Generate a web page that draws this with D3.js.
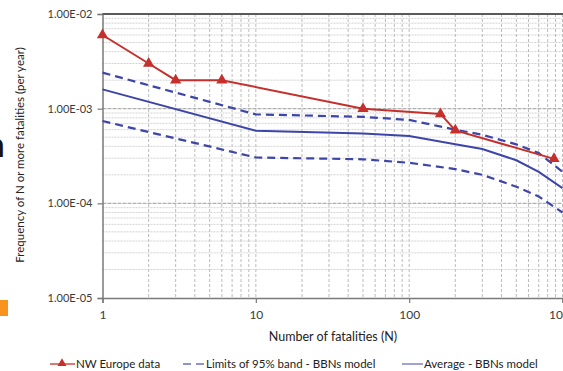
<!DOCTYPE html>
<html>
<head>
<meta charset="utf-8">
<script src="https://cdn.jsdelivr.net/npm/d3@7"></script>
<style>
  html, body { margin: 0; padding: 0; background: #fff; }
  svg { display: block; font-family: Lato, "Open Sans", sans-serif; }
</style>
</head>
<body>
<svg id="chart" width="563" height="371"></svg>
<script>
// F-N curve: frequency of N or more fatalities per year
const nweN    = [1, 2, 3, 6, 50, 160, 200, 880];
const nweFreq = [6.0e-3, 3.0e-3, 2.0e-3, 2.0e-3, 1.0e-3, 8.8e-4, 5.9e-4, 2.95e-4];

const modelN   = [1, 10, 50, 100, 200, 300, 500, 700, 1000];
const avgFreq  = [1.6e-3, 5.85e-4, 5.45e-4, 5.15e-4, 4.2e-4, 3.75e-4, 2.85e-4, 2.15e-4, 1.45e-4];
const upperFreq = [2.4e-3, 8.7e-4, 8.2e-4, 7.6e-4, 6.0e-4, 5.3e-4, 4.2e-4, 3.4e-4, 2.15e-4];
const lowerFreq = [7.4e-4, 3.05e-4, 2.92e-4, 2.68e-4, 2.3e-4, 2.0e-4, 1.5e-4, 1.18e-4, 8.0e-5];

const xTickValues = [1, 10, 100, 1000];
const yTickValues = [1e-5, 1e-4, 1e-3, 1e-2];
const yTickLabels = ["1.00E-05", "1.00E-04", "1.00E-03", "1.00E-02"];

const legendLabels = ["NW Europe data", "Limits of 95% band - BBNs model", "Average - BBNs model"];

const RED = "#c5302c";
const BLUE = "#3d45a8";

const svg = d3.select("#chart");
const plotL = 102.5, plotR = 562.5, plotT = 14, plotB = 298;

const x = d3.scaleLog().domain([1, 1000]).range([plotL, plotR]);
const y = d3.scaleLog().domain([1e-5, 1e-2]).range([plotB, plotT]);

// minor grid values (2..9 within each decade)
const xGrid = [];
for (let d = 1; d < 1000; d *= 10) for (let k = 2; k <= 10; k++) xGrid.push(d * k);
const yMinor = [];
for (let d = 1e-5; d < 1e-2 * 0.99; d *= 10) for (let k = 2; k <= 9; k++) yMinor.push(d * k);

const grid = svg.append("g");
grid.selectAll(".hminor").data(yMinor).join("line")
  .attr("x1", plotL).attr("x2", plotR)
  .attr("y1", d => y(d)).attr("y2", d => y(d))
  .attr("stroke", "#d2d2d2").attr("stroke-width", 1).attr("stroke-dasharray", "2,1");
grid.selectAll(".hmajor").data(yTickValues.slice(1, 3)).join("line")
  .attr("x1", plotL).attr("x2", plotR)
  .attr("y1", d => y(d)).attr("y2", d => y(d))
  .attr("stroke", "#b0b0b0").attr("stroke-width", 1.2).attr("stroke-dasharray", "4,1");
grid.selectAll(".v").data(xGrid).join("line")
  .attr("x1", d => x(d)).attr("x2", d => x(d))
  .attr("y1", plotT).attr("y2", plotB)
  .attr("stroke", "#bcbcbc").attr("stroke-width", 1).attr("stroke-dasharray", "3,2");

// axes
const yAxis = d3.axisLeft(y).tickValues(yTickValues)
  .tickFormat((d, i) => yTickLabels[i]).tickSize(5).tickPadding(5);
const gy = svg.append("g").attr("transform", `translate(${plotL},0)`).call(yAxis);
gy.select(".domain").attr("stroke", "#7a7a7a").attr("stroke-width", 1.5);
gy.selectAll(".tick line").attr("stroke", "#7a7a7a").attr("stroke-width", 1.2);
gy.selectAll(".tick text").attr("fill", "#3a3a3a").style("font-size", "11px")
  .style("font-family", "Lato, sans-serif");

const xAxis = d3.axisBottom(x).tickValues(xTickValues)
  .tickFormat(d3.format("d")).tickSize(5).tickPadding(7);
const gx = svg.append("g").attr("transform", `translate(0,${plotB})`).call(xAxis);
gx.select(".domain").attr("stroke", "#7a7a7a").attr("stroke-width", 1.5);
gx.selectAll(".tick line").attr("stroke", "#7a7a7a").attr("stroke-width", 1.2);
gx.selectAll(".tick text").attr("fill", "#3a3a3a").style("font-size", "12px")
  .style("font-family", "Lato, sans-serif");

// top border
svg.append("line").attr("x1", plotL).attr("x2", 563).attr("y1", plotT).attr("y2", plotT)
  .attr("stroke", "#5a5a5a").attr("stroke-width", 2);

// model curves
const line = d3.line().x(d => x(d[0])).y(d => y(d[1]));
const zip = (a, b) => a.map((v, i) => [v, b[i]]);

svg.append("path").datum(zip(modelN, upperFreq)).attr("d", line)
  .attr("fill", "none").attr("stroke", BLUE).attr("stroke-width", 2.2).attr("stroke-dasharray", "8,5");
svg.append("path").datum(zip(modelN, lowerFreq)).attr("d", line)
  .attr("fill", "none").attr("stroke", BLUE).attr("stroke-width", 2.2).attr("stroke-dasharray", "8,5");
svg.append("path").datum(zip(modelN, avgFreq)).attr("d", line)
  .attr("fill", "none").attr("stroke", BLUE).attr("stroke-width", 2);

// observed data
const nwe = zip(nweN, nweFreq);
svg.append("path").datum(nwe).attr("d", line)
  .attr("fill", "none").attr("stroke", RED).attr("stroke-width", 2);
const tri = d3.symbol().type(d3.symbolTriangle).size(55);
svg.selectAll(".pt").data(nwe).join("path")
  .attr("d", tri).attr("fill", RED)
  .attr("transform", d => `translate(${x(d[0])},${y(d[1])})`);

// axis titles
svg.append("text").attr("x", 333).attr("y", 341).attr("text-anchor", "middle")
  .attr("fill", "#222").style("font-size", "12.5px").text("Number of fatalities (N)");
svg.append("text").attr("transform", "translate(24,155) rotate(-90)")
  .attr("text-anchor", "middle").attr("fill", "#222").style("font-size", "11.5px")
  .text("Frequency of N or more fatalities (per year)");

// legend
const lg = svg.append("g").style("font-size", "11.5px").attr("fill", "#222");
lg.append("line").attr("x1", 50).attr("x2", 75).attr("y1", 364).attr("y2", 364)
  .attr("stroke", RED).attr("stroke-width", 1.6).attr("opacity", 0.8);
lg.append("path").attr("d", d3.symbol().type(d3.symbolTriangle).size(35))
  .attr("transform", "translate(62,363.5)").attr("fill", RED);
lg.append("text").attr("x", 76).attr("y", 368).text(legendLabels[0]);
lg.append("line").attr("x1", 183).attr("x2", 204).attr("y1", 364).attr("y2", 364)
  .attr("stroke", "#6a70c0").attr("stroke-width", 1.3).attr("stroke-dasharray", "8,5");
lg.append("text").attr("x", 206).attr("y", 368).text(legendLabels[1]);
lg.append("line").attr("x1", 402).attr("x2", 423).attr("y1", 364).attr("y2", 364)
  .attr("stroke", "#6a70c0").attr("stroke-width", 1.3);
lg.append("text").attr("x", 424).attr("y", 368).text(legendLabels[2]);

// page fragments around the figure
svg.append("text").attr("x", -14).attr("y", 157).style("font-size", "34px")
  .attr("fill", "#111").text("n");
svg.append("rect").attr("x", 0).attr("y", 300).attr("width", 8).attr("height", 16)
  .attr("fill", "#f7931e");
</script>
</body>
</html>
